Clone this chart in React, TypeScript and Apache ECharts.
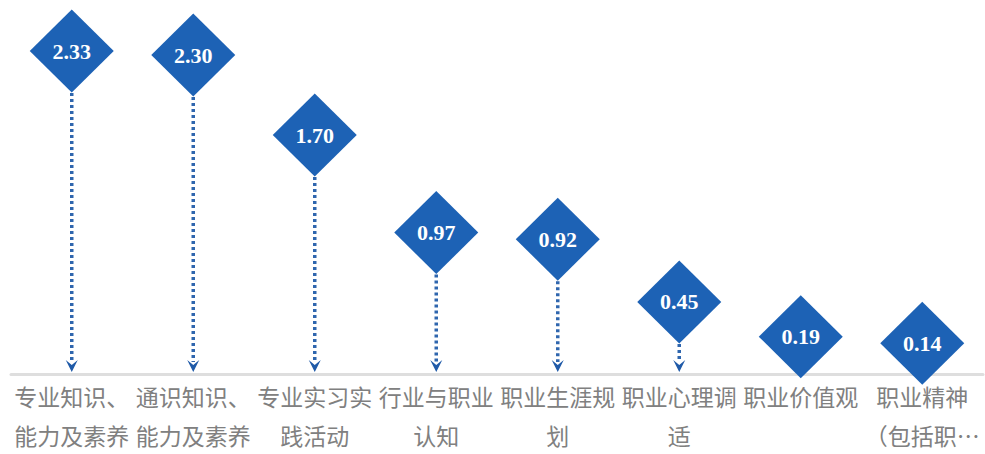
import React, { useEffect, useRef } from "react";
import * as echarts from "echarts";

const categories: string[] = [
  "专业知识、\n能力及素养",
  "通识知识、\n能力及素养",
  "专业实习实\n践活动",
  "行业与职业\n认知",
  "职业生涯规\n划",
  "职业心理调\n适",
  "职业价值观",
  "职业精神\n（包括职…",
];

const values: number[] = [2.33, 2.3, 1.7, 0.97, 0.92, 0.45, 0.19, 0.14];

const yMin = -0.09;
const yMax = 2.6;

const DIAMOND = "#1d62b5";
const DOTS = "#2f66ae";
const ARROW = "#1f5aa8";

export default function App() {
  const ref = useRef<HTMLDivElement>(null);

  useEffect(() => {
    if (!ref.current) return;
    const chart = echarts.init(ref.current, undefined, { renderer: "svg" });
    chart.setOption({
      animation: false,
      backgroundColor: "#ffffff",
      grid: { left: 11, right: 2, top: 15, bottom: 77, containLabel: false },
      xAxis: {
        type: "category",
        data: categories,
        axisTick: { show: false },
        axisLine: {
          show: true,
          onZero: false,
          lineStyle: { color: "#dedede", width: 3 },
        },
        axisLabel: {
          interval: 0,
          color: "#808080",
          fontSize: 23,
          lineHeight: 39,
          margin: 2,
          fontFamily: "Noto Sans CJK SC",
          align: "center",
        },
        splitLine: { show: false },
      },
      yAxis: {
        type: "value",
        min: yMin,
        max: yMax,
        show: false,
        splitLine: { show: false },
      },
      series: [
        {
          type: "custom",
          z: 1,
          data: values.map((v, i) => [i, v]),
          renderItem: (params: any, api: any) => {
            const p = api.coord([api.value(0), api.value(1)]);
            const cs = params.coordSys;
            const bottom = cs.y + cs.height;
            const tip = bottom - 2;
            const ah = 12;
            const aw = 6;
            return {
              type: "group",
              children: [
                {
                  type: "line",
                  shape: { x1: p[0], y1: p[1], x2: p[0], y2: tip - ah + 2 },
                  style: { stroke: DOTS, lineWidth: 3.5, lineDash: [3, 3] },
                },
                {
                  type: "polygon",
                  shape: {
                    points: [
                      [p[0] - aw, tip - ah],
                      [p[0], tip - ah + 5],
                      [p[0] + aw, tip - ah],
                      [p[0], tip],
                    ],
                  },
                  style: { fill: ARROW },
                },
              ],
            };
          },
        },
        {
          type: "scatter",
          z: 5,
          data: values,
          symbol: "diamond",
          symbolSize: [84, 83],
          itemStyle: { color: DIAMOND, opacity: 1 },
          emphasis: { disabled: true },
          label: {
            show: true,
            position: "inside",
            formatter: (p: any) => Number(p.value).toFixed(2),
            color: "#ffffff",
            fontWeight: "bold",
            fontFamily: "Liberation Serif",
            fontSize: 22,
          },
        },
      ],
    });
    return () => chart.dispose();
  }, []);

  return (
    <div
      ref={ref}
      style={{ position: "fixed", left: 0, top: 0, width: 985, height: 454 }}
    />
  );
}
